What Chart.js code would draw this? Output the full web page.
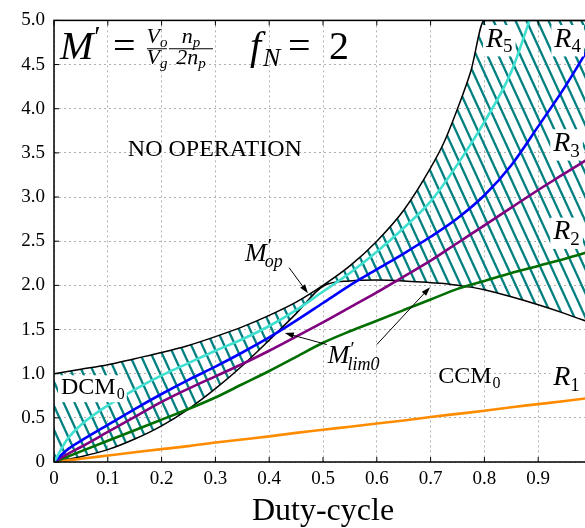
<!DOCTYPE html>
<html>
<head>
<meta charset="utf-8">
<script src="https://cdn.jsdelivr.net/npm/chart.js@4.4.0/dist/chart.umd.min.js"></script>
<style>
html, body { margin: 0; padding: 0; background: #fff; overflow: hidden; }
#wrap { width: 600px; height: 528px; }
</style>
</head>
<body>
<div id="wrap"><canvas id="chart" width="600" height="528"></canvas></div>
<script>
"use strict";

/* duty-cycle samples shared by the R curves */
var duty = [0, 0.025, 0.05, 0.1, 0.15, 0.2, 0.25, 0.3, 0.35, 0.4, 0.45, 0.5, 0.55, 0.6, 0.65, 0.7, 0.75, 0.8, 0.85, 0.9, 0.95, 1.0];
var r5 = [0, 0.26, 0.42, 0.64, 0.82, 0.98, 1.12, 1.26, 1.39, 1.54, 1.72, 1.93, 2.14, 2.38, 2.65, 2.95, 3.37, 3.85, 4.42, 5.3, null, null];
var r4 = [0, 0.14, 0.24, 0.42, 0.6, 0.77, 0.93, 1.08, 1.24, 1.41, 1.6, 1.8, 2.0, 2.18, 2.36, 2.55, 2.76, 3.02, 3.36, 3.8, 4.25, 4.75];
var r3 = [0, 0.09, 0.17, 0.34, 0.51, 0.68, 0.83, 0.97, 1.11, 1.26, 1.42, 1.58, 1.75, 1.92, 2.1, 2.28, 2.48, 2.68, 2.88, 3.08, 3.27, 3.46];
var r2 = [0, 0.06, 0.12, 0.24, 0.36, 0.48, 0.6, 0.73, 0.88, 1.03, 1.19, 1.35, 1.48, 1.6, 1.72, 1.84, 1.96, 2.05, 2.14, 2.22, 2.3, 2.39];
var r1 = [0, 0.018, 0.036, 0.073, 0.11, 0.146, 0.18, 0.22, 0.255, 0.29, 0.33, 0.365, 0.4, 0.435, 0.47, 0.51, 0.545, 0.58, 0.62, 0.655, 0.69, 0.73];

/* operating region boundaries (M'op on top, M'lim0 below) */
var boundX = [0, 0.05, 0.1, 0.15, 0.2, 0.25, 0.3, 0.35, 0.4, 0.45, 0.5, 0.55, 0.6, 0.65, 0.7, 0.725, 0.75, 0.775, 0.8, 0.85, 0.9, 0.95, 1.0];
var mOp = [1.0, 1.05, 1.1, 1.17, 1.24, 1.32, 1.42, 1.53, 1.66, 1.81, 2.0, 2.22, 2.5, 2.85, 3.33, 3.62, 4.0, 4.43, 5.0, 5.0, 5.0, 5.0, 5.0];
var mLim = [0, 0.06, 0.14, 0.26, 0.41, 0.6, 0.83, 1.09, 1.38, 1.68, 1.99, 2.05, 2.06, 2.05, 2.03, 2.02, 2.0, 1.98, 1.95, 1.87, 1.78, 1.68, 1.57];

var xTicksMax = 1.0;
var SERIF = '"Liberation Serif", "DejaVu Serif", serif';

function pts(xs, ys) {
    var out = [];
    for (var i = 0; i < xs.length; i++) {
        if (ys[i] !== null) out.push({x: xs[i], y: ys[i]});
    }
    return out;
}

function font(size, italic) {
    return (italic ? 'italic ' : '') + size + 'px ' + SERIF;
}

function hatch() {
    var c = document.createElement('canvas');
    c.width = 11; c.height = 24;
    var g = c.getContext('2d');
    g.strokeStyle = '#008080';
    g.lineWidth = 2.3;
    [-11, 0, 11].forEach(function (o) {
        g.beginPath();
        g.moveTo(o - 0.92, -2);
        g.lineTo(o + 11.92, 26);
        g.stroke();
    });
    return g.createPattern(c, 'repeat');
}

/* text with subscript, optional white box behind */
function subText(ctx, x, y, main, sub, size, italic, subItalic, box) {
    ctx.font = font(size, italic);
    var w1 = ctx.measureText(main).width;
    var ss = Math.round(size * 0.68);
    ctx.font = font(ss, subItalic);
    var w2 = ctx.measureText(sub).width;
    if (box) {
        ctx.fillStyle = '#fff';
        ctx.fillRect(x - 3, y - size * 0.78, w1 + w2 + 6, size * 1.12);
    }
    ctx.fillStyle = '#000';
    ctx.font = font(size, italic);
    ctx.fillText(main, x, y);
    ctx.font = font(ss, subItalic);
    ctx.fillText(sub, x + w1 + (italic ? 0 : 1), y + size * 0.2);
}

function mPrime(ctx, x, y, sub, size) {
    ctx.fillStyle = '#000';
    ctx.font = font(size, true);
    var w = ctx.measureText('M').width;
    ctx.fillText('M', x, y);
    ctx.font = font(Math.round(size * 0.72), false);
    ctx.fillText('\u2032', x + w + 1, y - size * 0.32);
    if (sub) {
        ctx.font = font(Math.round(size * 0.68), true);
        ctx.fillText(sub, x + w - 2, y + size * 0.25);
    }
}

function arrow(ctx, x1, y1, x2, y2) {
    var a = Math.atan2(y2 - y1, x2 - x1);
    ctx.strokeStyle = '#000';
    ctx.fillStyle = '#000';
    ctx.lineWidth = 1;
    ctx.beginPath();
    ctx.moveTo(x1, y1);
    ctx.lineTo(x2 - 6 * Math.cos(a), y2 - 6 * Math.sin(a));
    ctx.stroke();
    ctx.beginPath();
    ctx.moveTo(x2, y2);
    ctx.lineTo(x2 - 9 * Math.cos(a) + 3 * Math.sin(a), y2 - 9 * Math.sin(a) - 3 * Math.cos(a));
    ctx.lineTo(x2 - 9 * Math.cos(a) - 3 * Math.sin(a), y2 - 9 * Math.sin(a) + 3 * Math.cos(a));
    ctx.closePath();
    ctx.fill();
}

var decorations = {
    id: 'decorations',
    afterDatasetsDraw: function (chart) {
        var ctx = chart.ctx;
        var xs = chart.scales.x, ys = chart.scales.y;
        var X = function (v) { return xs.getPixelForValue(v); };
        var Y = function (v) { return ys.getPixelForValue(v); };
        var area = chart.chartArea;
        ctx.save();
        ctx.textBaseline = 'alphabetic';
        ctx.textAlign = 'left';

        /* frame and inward ticks */
        ctx.strokeStyle = '#000';
        ctx.lineWidth = 1;
        xs.ticks.forEach(function (t) {
            var px = X(t.value);
            ctx.beginPath();
            ctx.moveTo(px, area.bottom); ctx.lineTo(px, area.bottom - 5);
            ctx.moveTo(px, area.top); ctx.lineTo(px, area.top + 5);
            ctx.stroke();
        });
        ys.ticks.forEach(function (t) {
            var py = Y(t.value);
            ctx.beginPath();
            ctx.moveTo(area.left, py); ctx.lineTo(area.left + 5, py);
            ctx.stroke();
        });
        ctx.lineWidth = 1.5;
        ctx.strokeRect(area.left, area.top, area.right - area.left, area.bottom - area.top);

        /* region labels */
        ctx.fillStyle = '#000';
        ctx.font = font(24, false);
        ctx.textAlign = 'center';
        ctx.fillText('NO OPERATION', X(0.299), Y(3.47));
        ctx.textAlign = 'left';
        subText(ctx, X(0.013), Y(0.77), 'DCM', '0', 24, false, false, true);
        subText(ctx, X(0.714), Y(0.89), 'CCM', '0', 24, false, false, false);

        subText(ctx, X(0.928), Y(0.87), 'R', '1', 28, true, false, true);
        subText(ctx, X(0.928), Y(2.52), 'R', '2', 28, true, false, true);
        subText(ctx, X(0.928), Y(3.52), 'R', '3', 28, true, false, true);
        subText(ctx, X(0.930), Y(4.70), 'R', '4', 28, true, false, true);
        subText(ctx, X(0.803), Y(4.70), 'R', '5', 28, true, false, true);

        /* curve labels and arrows */
        mPrime(ctx, X(0.355), Y(2.28), 'op', 26);
        arrow(ctx, X(0.437), Y(2.2), X(0.472), Y(1.91));
        mPrime(ctx, X(0.509), Y(1.12), 'lim0', 26);
        arrow(ctx, X(0.507), Y(1.33), X(0.429), Y(1.46));
        arrow(ctx, X(0.600), Y(1.33), X(0.699), Y(1.98));

        /* formula */
        var ax = X(0.011), ay = Y(4.56);
        mPrime(ctx, ax, ay, '', 40);
        ctx.font = font(40, false);
        ctx.fillText('=', ax + 53, ay);
        var fr = function (cx, half, num, numSub, den, denSub) {
            ctx.font = font(22, true);
            var nw = ctx.measureText(num).width;
            ctx.font = font(15, true);
            var nsw = ctx.measureText(numSub).width;
            ctx.font = font(22, true);
            var dw = ctx.measureText(den).width;
            ctx.font = font(15, true);
            var dsw = ctx.measureText(denSub).width;
            var nx = cx - (nw + nsw) / 2, dx = cx - (dw + dsw) / 2;
            ctx.font = font(22, true);
            ctx.fillText(num, nx, ay - 16);
            ctx.fillText(den, dx, ay + 5);
            ctx.font = font(15, true);
            ctx.fillText(numSub, nx + nw, ay - 12);
            ctx.fillText(denSub, dx + dw, ay + 9);
            ctx.lineWidth = 1;
            ctx.beginPath();
            ctx.moveTo(cx - half, ay - 10.5);
            ctx.lineTo(cx + half, ay - 10.5);
            ctx.stroke();
        };
        fr(ax + 97, 10, 'V', 'o', 'V', 'g');
        fr(ax + 131, 22, 'n', 'p', '2n', 'p');
        ctx.font = font(40, true);
        ctx.fillText('f', ax + 190, ay);
        ctx.font = font(26, true);
        ctx.fillText('N', ax + 203, ay + 7);
        ctx.font = font(40, false);
        ctx.fillText('=', ax + 228, ay);
        ctx.fillText('2', ax + 269, ay);
        ctx.restore();
    }
};

function line(data, color, width) {
    return {
        data: data,
        borderColor: color,
        borderWidth: width,
        pointRadius: 0,
        fill: false,
        cubicInterpolationMode: 'monotone'
    };
}

var datasets = [
    line(pts(duty, r5), '#40E0D0', 2.6),
    line(pts(duty, r4), '#0000FF', 2.6),
    line(pts(duty, r3), '#800080', 2.6),
    line(pts(duty, r2), '#006e00', 2.6),
    line(pts(duty, r1), '#FF8C00', 2.6),
    line(pts(boundX, mOp), '#000000', 1.5),
    line(pts(boundX, mLim), '#000000', 1.5)
];
datasets[5].fill = '+1';
datasets[5].backgroundColor = hatch();

var tickFont = {family: SERIF, size: 19};

new Chart(document.getElementById('chart'), {
    type: 'line',
    data: {datasets: datasets},
    plugins: [decorations],
    options: {
        responsive: false,
        animation: false,
        devicePixelRatio: 1,
        layout: {padding: {top: 14, right: 8, left: 0, bottom: 0}},
        plugins: {
            legend: {display: false},
            tooltip: {enabled: false},
            filler: {drawTime: 'beforeDatasetsDraw'}
        },
        scales: {
            x: {
                type: 'linear',
                min: 0,
                max: xTicksMax,
                afterFit: function (s) { s.height = 66; },
                grid: {color: '#b0b0b0', lineWidth: 1, drawTicks: false},
                border: {display: false, dash: [2, 3]},
                ticks: {
                    stepSize: 0.1,
                    autoSkip: false,
                    maxRotation: 0,
                    padding: 6,
                    color: '#000',
                    font: tickFont,
                    callback: function (v) {
                        if (v === 0) return '0';
                        if (v > 0.99) return '';
                        return v.toFixed(1);
                    }
                },
                title: {
                    display: true,
                    text: 'Duty-cycle',
                    color: '#000',
                    font: {family: SERIF, size: 32, lineHeight: 1},
                    padding: {top: 0, bottom: 0}
                }
            },
            y: {
                min: 0,
                max: 5,
                afterFit: function (s) { s.width = 54; },
                grid: {color: '#b0b0b0', lineWidth: 1, drawTicks: false},
                border: {display: false, dash: [2, 3]},
                ticks: {
                    stepSize: 0.5,
                    padding: 9,
                    color: '#000',
                    font: tickFont,
                    callback: function (v) {
                        return v === 0 ? '0' : v.toFixed(1);
                    }
                }
            }
        }
    }
});
</script>
</body>
</html>
